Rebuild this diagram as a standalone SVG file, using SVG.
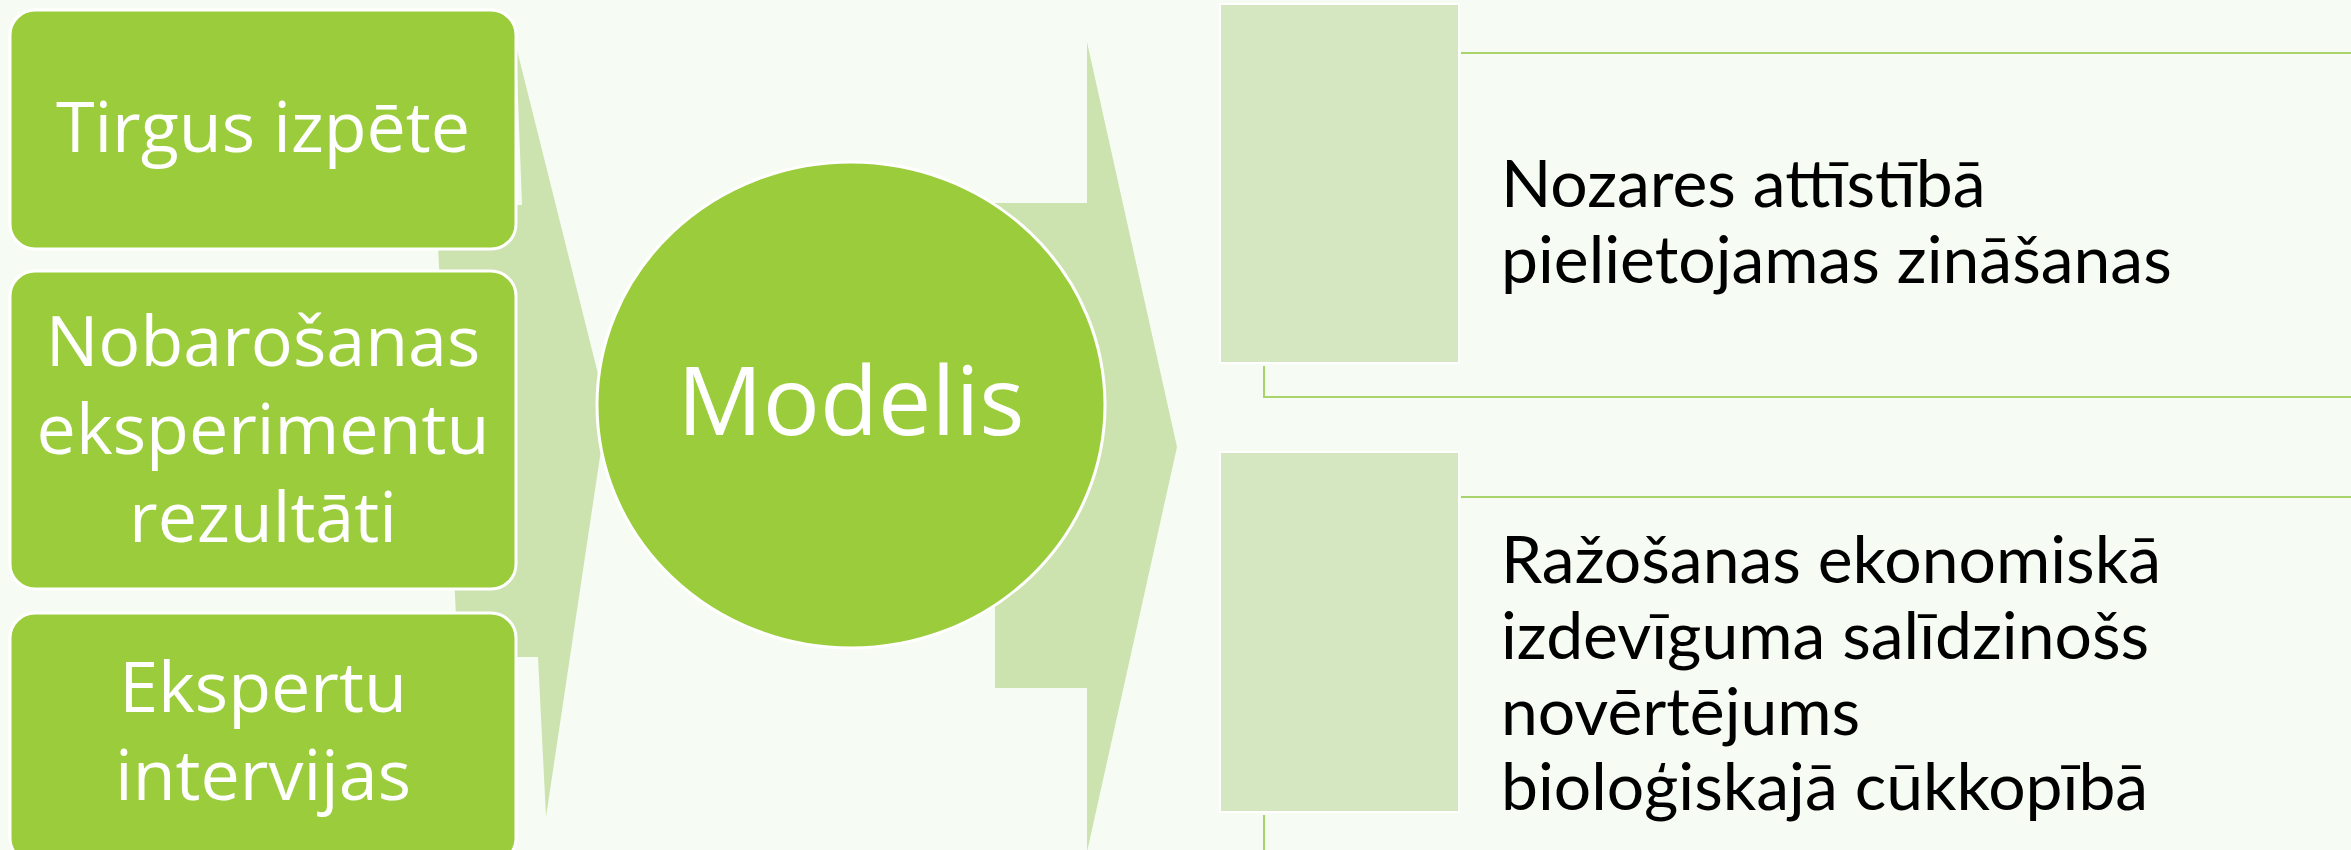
<svg xmlns="http://www.w3.org/2000/svg" width="2351" height="850" viewBox="0 0 2351 850">
<style>
.box{fill:#9bcc3b;stroke:#ffffff;stroke-width:3}
.arrow{fill:#cce3b0}
.panel{fill:#d5e7c0;stroke:#ffffff;stroke-width:2}
.ln{fill:none;stroke:#a9d46b;stroke-width:2}
.wt{fill:#ffffff;font-family:"Open Sans","Noto Sans",sans-serif;font-size:70px;text-anchor:middle}
.big{font-size:95px}
.bt{fill:#000000;font-family:Lato,"Open Sans",sans-serif;font-size:66px}
</style>
<rect x="0" y="0" width="2351" height="850" fill="#f6fcf3"/>
<g id="connectors">
<polygon id="arrow-left" class="arrow" points="436,205 522,205 516,46 607,410 546,817 538,657 458,657"/>
<polygon id="arrow-right" class="arrow" points="995,203 1087,203 1087,42 1177,447 1087,852 1087,688 995,688"/>
<polyline class="ln" points="1461,53 2351,53"/>
<polyline class="ln" points="1264,366 1264,397 2351,397"/>
<polyline class="ln" points="1461,497 2351,497"/>
<polyline class="ln" points="1264,815 1264,850"/>
</g>
<g id="node-tirgus">
<rect class="box" x="10" y="10" width="506" height="239" rx="25"/>
<text class="wt" x="263" y="152">Tirgus izpēte</text>
</g>
<g id="node-nobarosanas">
<rect class="box" x="10" y="271" width="506" height="318" rx="25"/>
<text class="wt" x="263" y="366">Nobarošanas</text>
<text class="wt" x="263" y="454">eksperimentu</text>
<text class="wt" x="263" y="542">rezultāti</text>
</g>
<g id="node-ekspertu">
<rect class="box" x="10" y="613" width="506" height="250" rx="25"/>
<text class="wt" x="263" y="712">Ekspertu</text>
<text class="wt" x="263" y="800">intervijas</text>
</g>
<g id="node-modelis">
<ellipse class="box" cx="851" cy="405" rx="254" ry="243"/>
<text class="wt big" x="851" y="435">Modelis</text>
</g>
<g id="node-nozares">
<rect class="panel" x="1220" y="4" width="239" height="359"/>
<text class="bt" x="1501" y="207">Nozares attīstībā</text>
<text class="bt" x="1501" y="283">pielietojamas zināšanas</text>
</g>
<g id="node-razosanas">
<rect class="panel" x="1220" y="452" width="239" height="360"/>
<text class="bt" x="1501" y="583">Ražošanas ekonomiskā</text>
<text class="bt" x="1501" y="659">izdevīguma salīdzinošs</text>
<text class="bt" x="1501" y="735">novērtējums</text>
<text class="bt" x="1501" y="810">bioloģiskajā cūkkopībā</text>
</g>
</svg>
